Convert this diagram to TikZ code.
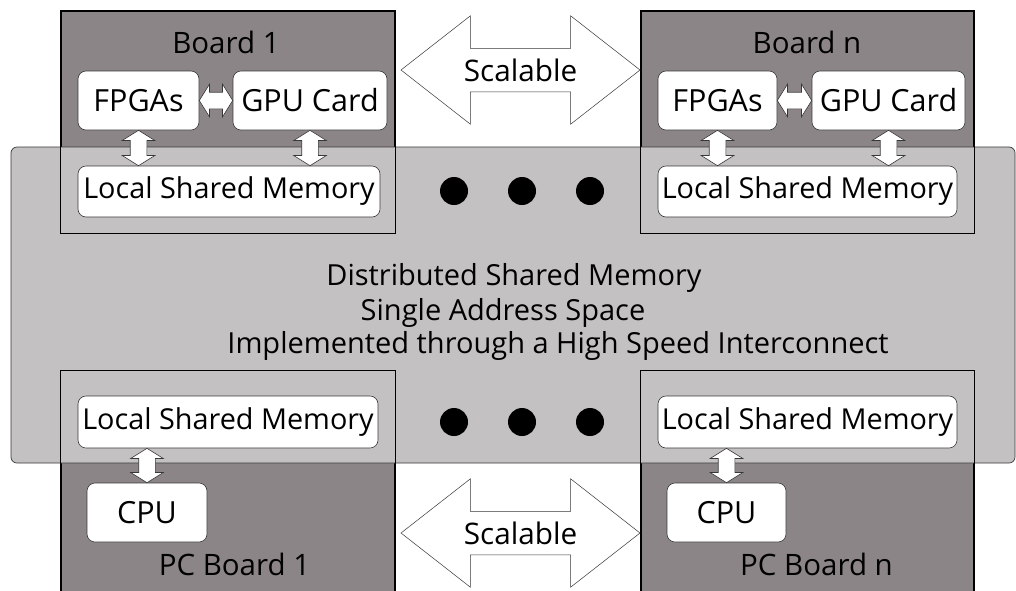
\documentclass[tikz,border=0pt]{standalone}
\usepackage{fontspec}
\setmainfont{Open Sans}
\usepackage{tikz}
\usetikzlibrary{calc}
\usetikzlibrary{positioning}
\usetikzlibrary{shapes.arrows}

\definecolor{boardgray}{RGB}{140,133,135}
\definecolor{planegray}{RGB}{196,193,195}
\definecolor{edgegray}{RGB}{55,55,55}

\tikzset{
  board/.style={rectangle,draw=black,line width=1.1pt,fill=boardgray,inner sep=0pt},
  boardline/.style={draw=black,line width=1.1pt},
  unit/.style={rectangle,rounded corners=8pt,draw=edgegray,line width=0.6pt,fill=white,
    inner sep=0pt,font=\fontsize{30.5}{34}\selectfont},
  memunit/.style={unit,font=\fontsize{28.8}{32}\selectfont},
  boardlab/.style={anchor=base,inner sep=0pt,font=\fontsize{29.5}{34}\selectfont},
  planelab/.style={anchor=base,inner sep=0pt,font=\fontsize{29}{34}\selectfont},
  linkarrow/.style={double arrow,draw=edgegray,line width=0.6pt,fill=white,
    inner xsep=0pt,inner ysep=8pt,double arrow head extend=8pt,double arrow tip angle=116},
  scalable/.style={linkarrow,line width=0.5pt,inner ysep=21.5pt,
    double arrow head extend=32.5pt,double arrow tip angle=76},
}

% block arrow between two points, length and angle taken from them
\newcommand{\link}[3][]{%
  \path let \p1=(#2), \p2=(#3),
    \n1={veclen(\x2-\x1,\y2-\y1)}, \n2={atan2(\y2-\y1,\x2-\x1)} in
    node[linkarrow,#1,minimum height=\n1,rotate=\n2] at ($(\p1)!0.5!(\p2)$) {};}

\begin{document}
\begin{tikzpicture}[x=1pt,y=-1pt]

  \clip (0,0) rectangle (1016,590);
  \fill[white] (0,0) rectangle (1016,590);

  % boards
  \node [board,minimum width=334pt,minimum height=222pt] (board1)   at (228,122)   {};
  \node [board,minimum width=333pt,minimum height=222pt] (boardn)   at (807.5,122) {};
  \node [board,minimum width=334pt,minimum height=240pt] (pcboard1) at (228,491)   {};
  \node [board,minimum width=333pt,minimum height=240pt] (pcboardn) at (807.5,491) {};

  % shared memory plane
  \node [rectangle,rounded corners=6pt,draw=edgegray,line width=0.7pt,fill=planegray,
         minimum width=1004pt,minimum height=316pt] (plane) at (513,305) {};

  \foreach \b in {board1,boardn,pcboard1,pcboardn}
    \draw [boardline] (\b.north west) rectangle (\b.south east);

  \node [boardlab] (board1lab)   at (226,53)   {Board 1};
  \node [boardlab] (boardnlab)   at (807,53)   {Board n};
  \node [boardlab] (pcboard1lab) at (234.5,575) {PC Board 1};
  \node [boardlab] (pcboardnlab) at (816.5,575) {PC Board n};

  % units on the boards
  \node [unit,minimum width=121pt,minimum height=59pt] (fpga1) at (138.5,100.5) {FPGAs};
  \node [unit,minimum width=154pt,minimum height=59pt] (gpu1)  at (310,100.5)   {GPU Card};
  \node [memunit,minimum width=302pt,minimum height=51pt] (mem1) at (229,191.5) {Local Shared Memory};

  \node [unit,minimum width=119pt,minimum height=59pt] (fpgan) at (717.5,100.5) {FPGAs};
  \node [unit,minimum width=153pt,minimum height=59pt] (gpun)  at (888.5,100.5) {GPU Card};
  \node [memunit,minimum width=299pt,minimum height=51pt] (memn) at (807.5,191.5) {Local Shared Memory};

  \node [memunit,minimum width=300pt,minimum height=52pt] (pcmem1) at (228,422)   {Local Shared Memory};
  \node [unit,minimum width=120pt,minimum height=59pt] (cpu1)   at (147,512.5)   {CPU};
  \node [memunit,minimum width=299pt,minimum height=52pt] (pcmemn) at (807.5,422) {Local Shared Memory};
  \node [unit,minimum width=119pt,minimum height=59pt] (cpun)   at (726.5,512.5) {CPU};

  % plane text
  \node [planelab] (dsm)  at (514,285) {Distributed Shared Memory};
  \node [planelab] (sas)  at (503,320) {Single Address Space};
  \node [planelab] (hsi)  at (558,353) {Implemented through a High Speed Interconnect};

  % dots
  \foreach \x in {454,522,590} {
    \fill (\x,191) circle (14);
    \fill (\x,422) circle (14);
  }

  % links
  \link{fpga1.east}{gpu1.west}
  \link{fpgan.east}{gpun.west}
  \link{fpga1.south}{fpga1.south |- mem1.north}
  \link{gpu1.south}{gpu1.south |- mem1.north}
  \link{fpgan.south}{fpgan.south |- memn.north}
  \link{gpun.south}{gpun.south |- memn.north}
  \link{cpu1.north |- pcmem1.south}{cpu1.north}
  \link{cpun.north |- pcmemn.south}{cpun.north}

  \coordinate (sctopw) at (401,70);
  \coordinate (sctope) at (640,70);
  \coordinate (scbotw) at (401,533);
  \coordinate (scbote) at (640,533);
  \link[scalable,label={[font=\fontsize{29.7}{34}\selectfont]center:Scalable}]{sctopw}{sctope}
  \link[scalable,label={[font=\fontsize{29.7}{34}\selectfont]center:Scalable}]{scbotw}{scbote}

\end{tikzpicture}
\end{document}
